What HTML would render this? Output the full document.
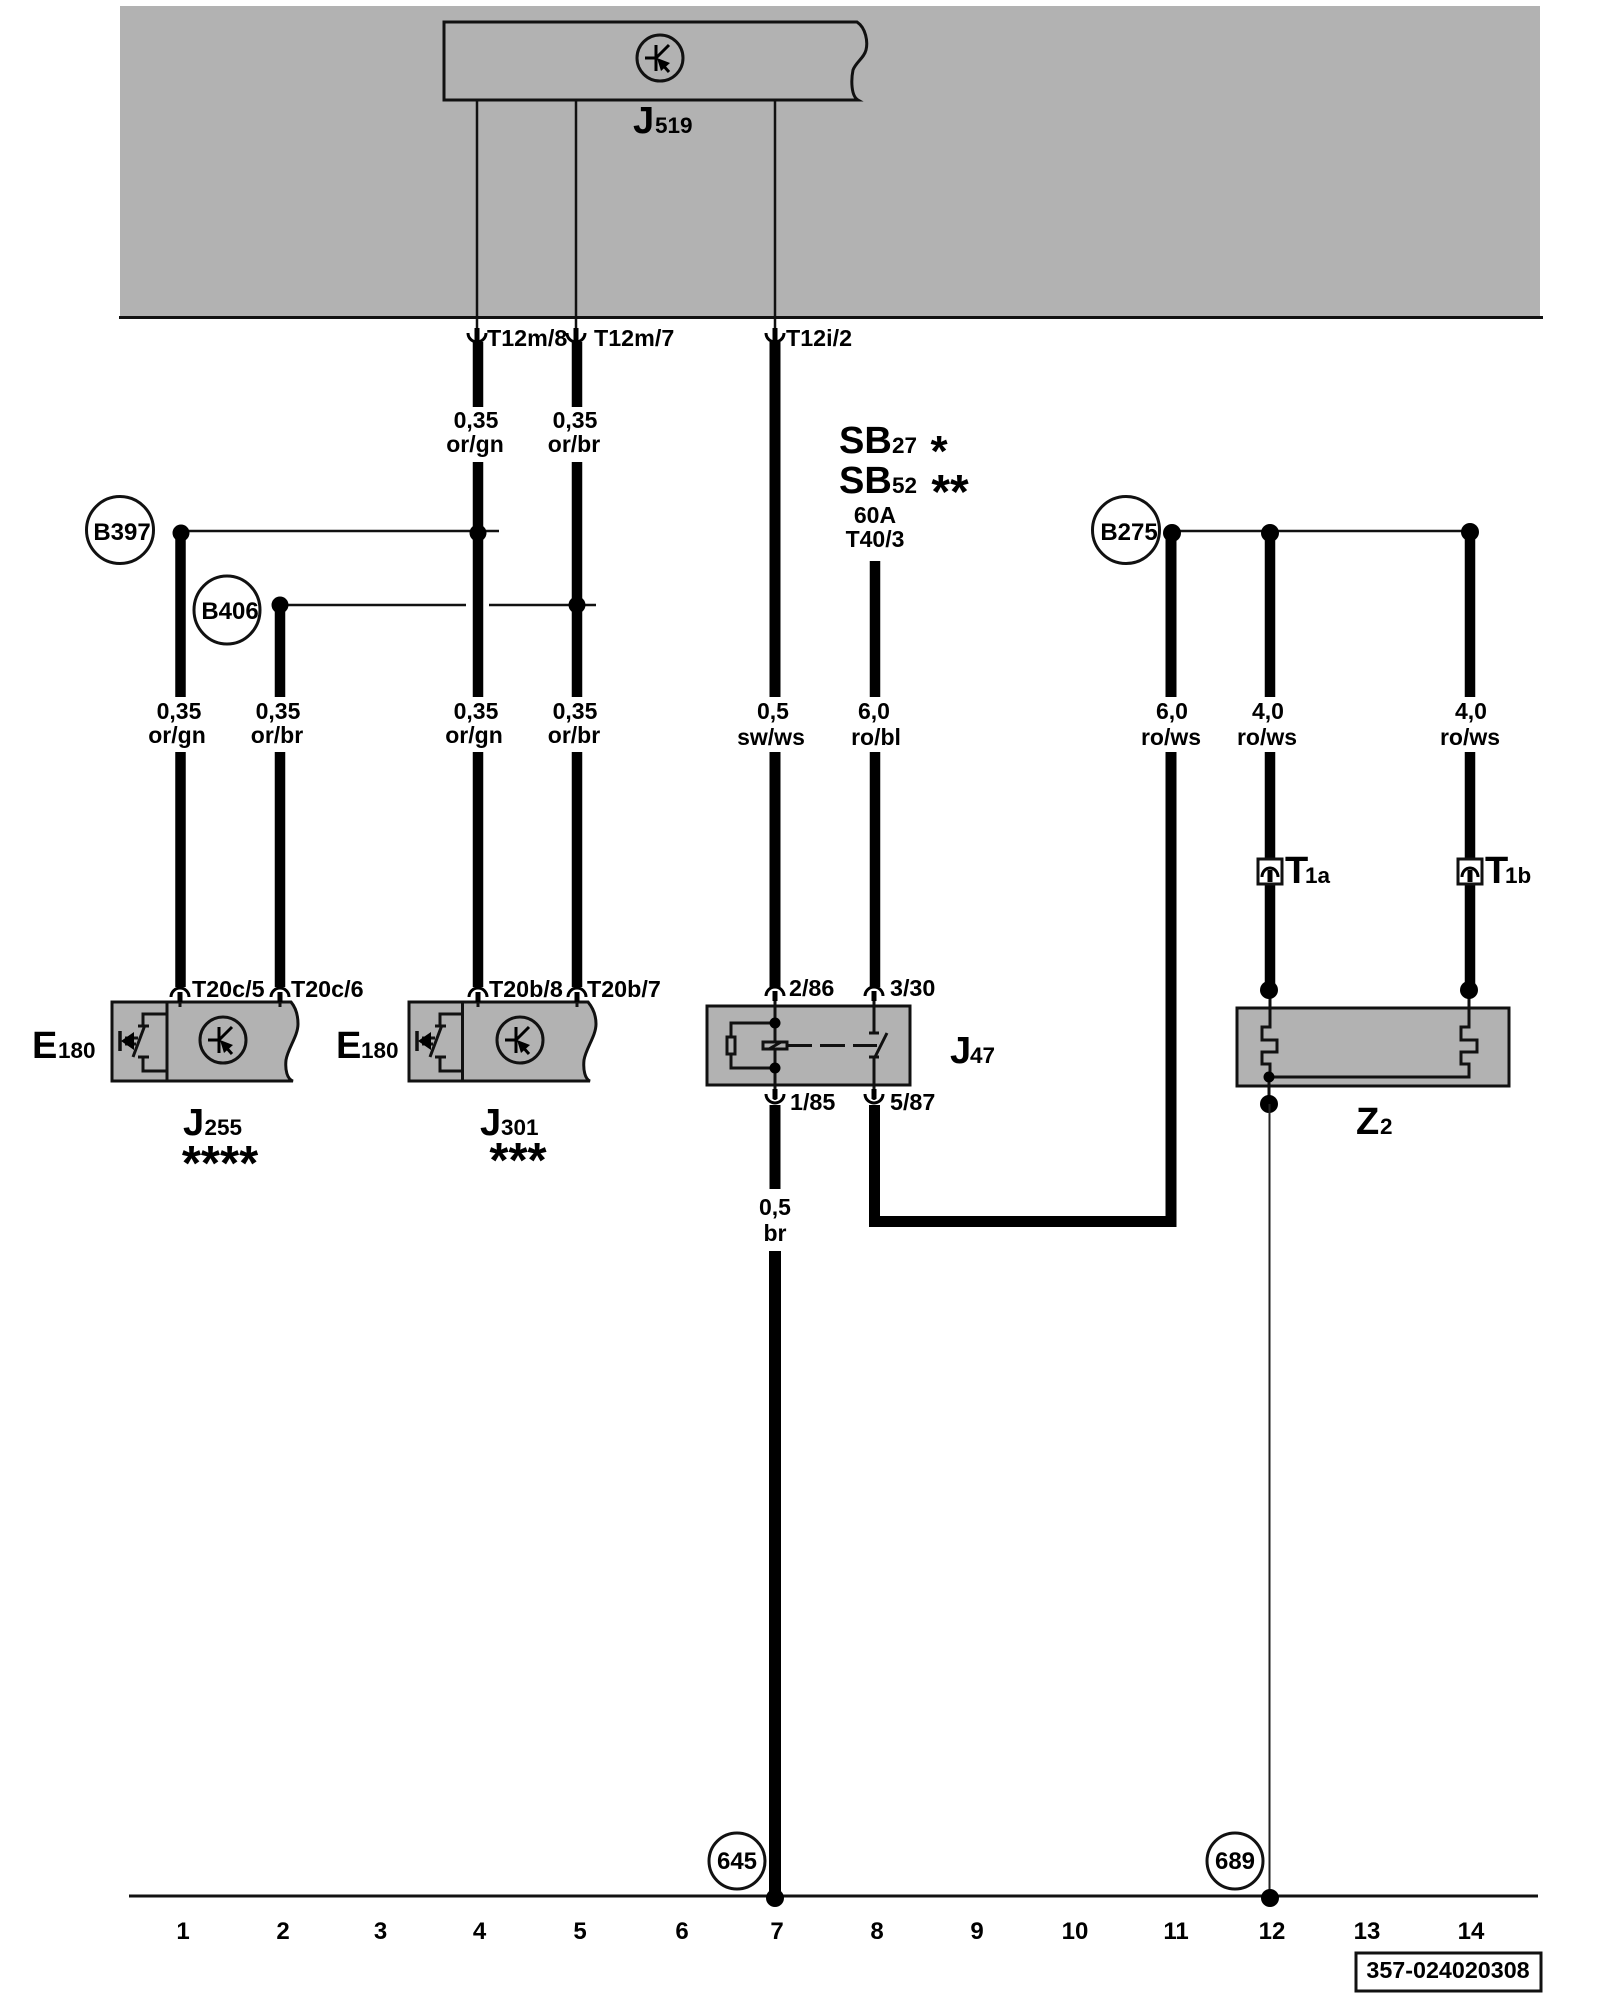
<!DOCTYPE html>
<html><head><meta charset="utf-8"><title>Wiring diagram</title>
<style>
html,body{margin:0;padding:0;background:#fff}
svg{display:block}
text{font-family:"Liberation Sans",Arial,sans-serif;font-weight:bold;fill:#000}
.l{font-size:23.3px}
.m{text-anchor:middle;font-size:23px}
.c{text-anchor:middle;font-size:24px}
.b{font-size:38px}
.s{font-size:22.500px}
.n{text-anchor:middle;font-size:24px}
</style></head><body>
<svg xmlns="http://www.w3.org/2000/svg" width="1600" height="2000" viewBox="0 0 1600 2000">
<defs>
<g id="cd" fill="none" stroke="#000"><path d="M-9,-5A9,9 0 0 0 9,-5" stroke-width="3"/><path d="M0,-10V3" stroke-width="5"/></g>
<g id="cu" fill="none" stroke="#000"><path d="M-9,2A9,9 0 0 1 9,2" stroke-width="3"/><path d="M0,-3V7" stroke-width="5"/></g>
<g id="cb" fill="none" stroke="#000"><path d="M-9,-2A9,9 0 0 0 9,-2" stroke-width="3"/><path d="M0,-7V3" stroke-width="5"/></g>
<g id="tr"><circle r="23" fill="none" stroke="#111" stroke-width="3"/><path d="M-15,0H-4M-4,-13V13M9,-13L-4,0M1,5L9,14" fill="none" stroke="#000" stroke-width="3"/><polygon points="-3,0 10,5 1,13" fill="#000"/></g>
<g id="sw" fill="none" stroke="#111" stroke-width="3"><path d="M167,1014H143V1025M138,1026H149M145,1025L133,1057M138,1057H149M143,1057V1071H167M125,1038H138M125,1044H136"/><path d="M120,1031V1051" stroke-width="3.500"/><polygon points="121,1041 134,1032 134,1050" fill="#000" stroke="none"/></g>
</defs>
<rect width="1600" height="2000" fill="#fff"/>
<rect x="120" y="6" width="1420" height="310" fill="#b2b2b2"/>
<path d="M119,317.500H1543" stroke="#111" stroke-width="3"/>

<!-- J519 -->
<path d="M857,22H444V100H858C851,96 851,80 853,70C856,62 864,58 866,50C868,42 866,28 857,22Z" fill="#b2b2b2" stroke="#111" stroke-width="3"/>
<use href="#tr" x="660" y="58"/>
<path d="M477,100V332M576,100V332M775,100V332" stroke="#111" stroke-width="2.500"/>
<text class="b" x="633" y="133">J</text><text class="s" x="655" y="133">519</text>

<!-- thick wires -->
<g fill="none" stroke="#000" stroke-width="10.500">
<path d="M478,342V407M478,462V697M478,752V987"/>
<path d="M577,342V407M577,462V697M577,752V987"/>
<path d="M180.500,533V697M180.500,752V987"/>
<path d="M280,605V697M280,752V987"/>
<path d="M875,561V697M875,752V987"/>
<path d="M1270,533V697M1270,752V990"/>
<path d="M1470,533V697M1470,752V990"/>
</g>
<g fill="none" stroke="#000" stroke-width="11">
<path d="M775,342V697M775,752V987M775,1105V1189"/>
<path d="M874.500,1105V1221.500H1171V752M1171,697V533"/>
</g>
<path d="M775,1251V1898" fill="none" stroke="#000" stroke-width="12"/>

<!-- horizontal taps -->
<path d="M181,531H499M280,605H466M489,605H596M1172,531H1470" fill="none" stroke="#111" stroke-width="2.500"/>
<g fill="#000">
<ellipse cx="181" cy="533" rx="8.500" ry="8.500"/><ellipse cx="478" cy="533" rx="8.500" ry="8.500"/>
<ellipse cx="280" cy="605" rx="8.500" ry="8.500"/><ellipse cx="577" cy="605" rx="8.500" ry="8.500"/>
<circle cx="1172" cy="533" r="9"/><circle cx="1270" cy="533" r="9"/><circle cx="1470" cy="532" r="9"/>
</g>

<!-- top connectors -->
<use href="#cd" x="477" y="338"/><use href="#cd" x="576" y="338"/><use href="#cd" x="775" y="338"/>
<text class="l" x="487" y="346">T12m/8</text><text class="l" x="594" y="346">T12m/7</text><text class="l" x="786" y="346">T12i/2</text>

<!-- wire labels -->
<text class="m" x="476" y="428">0,35</text><text class="m" x="475" y="452">or/gn</text>
<text class="m" x="575" y="428">0,35</text><text class="m" x="574" y="452">or/br</text>
<text class="m" x="179" y="719">0,35</text><text class="m" x="177" y="743">or/gn</text>
<text class="m" x="278" y="719">0,35</text><text class="m" x="277" y="743">or/br</text>
<text class="m" x="476" y="719">0,35</text><text class="m" x="474" y="743">or/gn</text>
<text class="m" x="575" y="719">0,35</text><text class="m" x="574" y="743">or/br</text>
<text class="m" x="773" y="719">0,5</text><text class="m" x="771" y="745">sw/ws</text>
<text class="m" x="874" y="719">6,0</text><text class="m" x="876" y="745">ro/bl</text>
<text class="m" x="1172" y="719">6,0</text><text class="m" x="1171" y="745">ro/ws</text>
<text class="m" x="1268" y="719">4,0</text><text class="m" x="1267" y="745">ro/ws</text>
<text class="m" x="1471" y="719">4,0</text><text class="m" x="1470" y="745">ro/ws</text>
<text class="m" x="775" y="1215">0,5</text><text class="m" x="775" y="1241">br</text>

<!-- circles -->
<g fill="#fff" stroke="#111" stroke-width="3">
<circle cx="120" cy="530" r="33.500"/><ellipse cx="227" cy="610" rx="33" ry="34"/><circle cx="1126" cy="530" r="33.500"/>
<circle cx="737" cy="1861" r="28"/><circle cx="1235" cy="1861" r="28"/>
</g>
<text class="c" x="122" y="540">B397</text><text class="c" x="230" y="619">B406</text><text class="c" x="1129" y="540">B275</text>
<text class="c" x="737" y="1869">645</text><text class="c" x="1235" y="1869">689</text>

<!-- SB -->
<text class="b" x="839" y="453">SB</text><text class="s" x="892" y="453">27</text><text x="939" y="466" text-anchor="middle" font-size="44">*</text>
<text class="b" x="839" y="493">SB</text><text class="s" x="892" y="493">52</text><text x="950" y="508" text-anchor="middle" font-size="48">**</text>
<text class="m" x="875" y="523">60A</text><text class="m" x="875" y="547">T40/3</text>

<!-- J255 box -->
<path d="M112,1002H291C296,1008 298,1016 298,1024C298,1036 288,1048 286,1060C285,1070 287,1079 293,1081H112Z" fill="#b2b2b2" stroke="#111" stroke-width="3"/>
<path d="M167,1002V1081" stroke="#111" stroke-width="3"/>
<use href="#sw"/>
<use href="#tr" x="223" y="1040"/>
<path d="M180,995V1007M280,995V1007" stroke="#111" stroke-width="3"/>
<use href="#cu" x="180" y="995"/><use href="#cu" x="280" y="995"/>
<text class="l" x="192" y="997">T20c/5</text><text class="l" x="291" y="997">T20c/6</text>

<!-- J301 box -->
<path d="M409,1002H588C593,1008 596,1016 596,1024C596,1036 586,1048 584,1060C583,1070 585,1079 590,1081H409Z" fill="#b2b2b2" stroke="#111" stroke-width="3"/>
<path d="M462.500,1002V1081" stroke="#111" stroke-width="3"/>
<use href="#sw" x="297"/>
<use href="#tr" x="520" y="1040"/>
<path d="M478,995V1007M577,995V1007" stroke="#111" stroke-width="3"/>
<use href="#cu" x="478" y="995"/><use href="#cu" x="577" y="995"/>
<text class="l" x="489" y="997">T20b/8</text><text class="l" x="587" y="997">T20b/7</text>

<text class="b" x="32" y="1058">E</text><text class="s" x="58" y="1058">180</text>
<text class="b" x="336" y="1058">E</text><text class="s" x="361" y="1058">180</text>
<text class="b" x="183" y="1135">J</text><text class="s" x="204.500" y="1135">255</text>
<text x="220" y="1180" text-anchor="middle" font-size="49">****</text>
<text class="b" x="480" y="1135">J</text><text class="s" x="501" y="1135">301</text>
<text x="518" y="1177" text-anchor="middle" font-size="49">***</text>

<!-- J47 relay -->
<rect x="707" y="1006" width="203" height="79" fill="#b2b2b2" stroke="#111" stroke-width="3"/>
<g fill="none" stroke="#111" stroke-width="3">
<path d="M775,992V1100M874,992V1033M869,1033H879M887,1033L875,1057M869,1057H879M874,1057V1100"/>
<path d="M775,1023H731V1068H775"/>
<rect x="727" y="1037" width="8" height="17" fill="#b2b2b2"/>
<rect x="763" y="1042" width="24" height="7" fill="#b2b2b2"/>
<path d="M769,1049L781,1042"/>
<path d="M787,1045.500H812M820,1045.500H845M853,1045.500H877"/>
</g>
<circle cx="775" cy="1023" r="5.500" fill="#000"/><circle cx="775" cy="1068" r="5.500" fill="#000"/>
<use href="#cu" x="775" y="994"/><use href="#cu" x="874" y="994"/>
<use href="#cb" x="775" y="1096"/><use href="#cb" x="874" y="1096"/>
<text class="l" x="789" y="996">2/86</text><text class="l" x="890" y="996">3/30</text>
<text class="l" x="790" y="1110">1/85</text><text class="l" x="890" y="1110">5/87</text>
<text class="b" x="950" y="1063">J</text><text class="s" x="970" y="1063">47</text>

<!-- T1a / T1b -->
<rect x="1258" y="859" width="24" height="25" fill="#fff" stroke="#111" stroke-width="3"/>
<rect x="1458" y="859" width="24" height="25" fill="#fff" stroke="#111" stroke-width="3"/>
<path d="M1262,877A8,9 0 0 1 1278,877M1462,877A8,9 0 0 1 1478,877" fill="none" stroke="#000" stroke-width="3"/>
<path d="M1270,870V882M1470,870V882" stroke="#000" stroke-width="5"/>
<text class="b" x="1285" y="883">T</text><text class="s" x="1305" y="883">1a</text>
<text class="b" x="1485" y="883">T</text><text class="s" x="1505" y="883">1b</text>

<!-- Z2 -->
<rect x="1237" y="1008" width="272" height="78" fill="#b2b2b2" stroke="#111" stroke-width="3"/>
<path d="M1270,990V1027H1262V1040H1277V1052H1262V1064H1270V1077H1469V1064H1461V1052H1477V1040H1461V1027H1469V990" fill="none" stroke="#111" stroke-width="3"/>
<path d="M1269,1077V1104" stroke="#111" stroke-width="3"/>
<circle cx="1269" cy="990" r="9" fill="#000"/><circle cx="1469" cy="990" r="9" fill="#000"/>
<circle cx="1269" cy="1077" r="5.500" fill="#000"/><circle cx="1269" cy="1104" r="9" fill="#000"/>
<text class="b" x="1356" y="1134">Z</text><text class="s" x="1380" y="1134">2</text>
<path d="M1269.500,1104V1898" stroke="#222" stroke-width="2"/>

<!-- bottom rail -->
<path d="M129,1896H1538" stroke="#111" stroke-width="3"/>
<circle cx="775" cy="1898" r="9" fill="#000"/><circle cx="1270" cy="1898" r="9" fill="#000"/>
<g>
<text class="n" x="183" y="1939">1</text><text class="n" x="283" y="1939">2</text><text class="n" x="380.500" y="1939">3</text>
<text class="n" x="479.500" y="1939">4</text><text class="n" x="580" y="1939">5</text><text class="n" x="682" y="1939">6</text>
<text class="n" x="777" y="1939">7</text><text class="n" x="877" y="1939">8</text><text class="n" x="977" y="1939">9</text>
<text class="n" x="1075" y="1939">10</text><text class="n" x="1176" y="1939">11</text><text class="n" x="1272" y="1939">12</text>
<text class="n" x="1367" y="1939">13</text><text class="n" x="1471" y="1939">14</text>
</g>
<rect x="1356" y="1953" width="185" height="38" fill="#fff" stroke="#111" stroke-width="3"/>
<text class="m" x="1448" y="1978" style="font-size:23.3px">357-024020308</text>
</svg>
</body></html>
